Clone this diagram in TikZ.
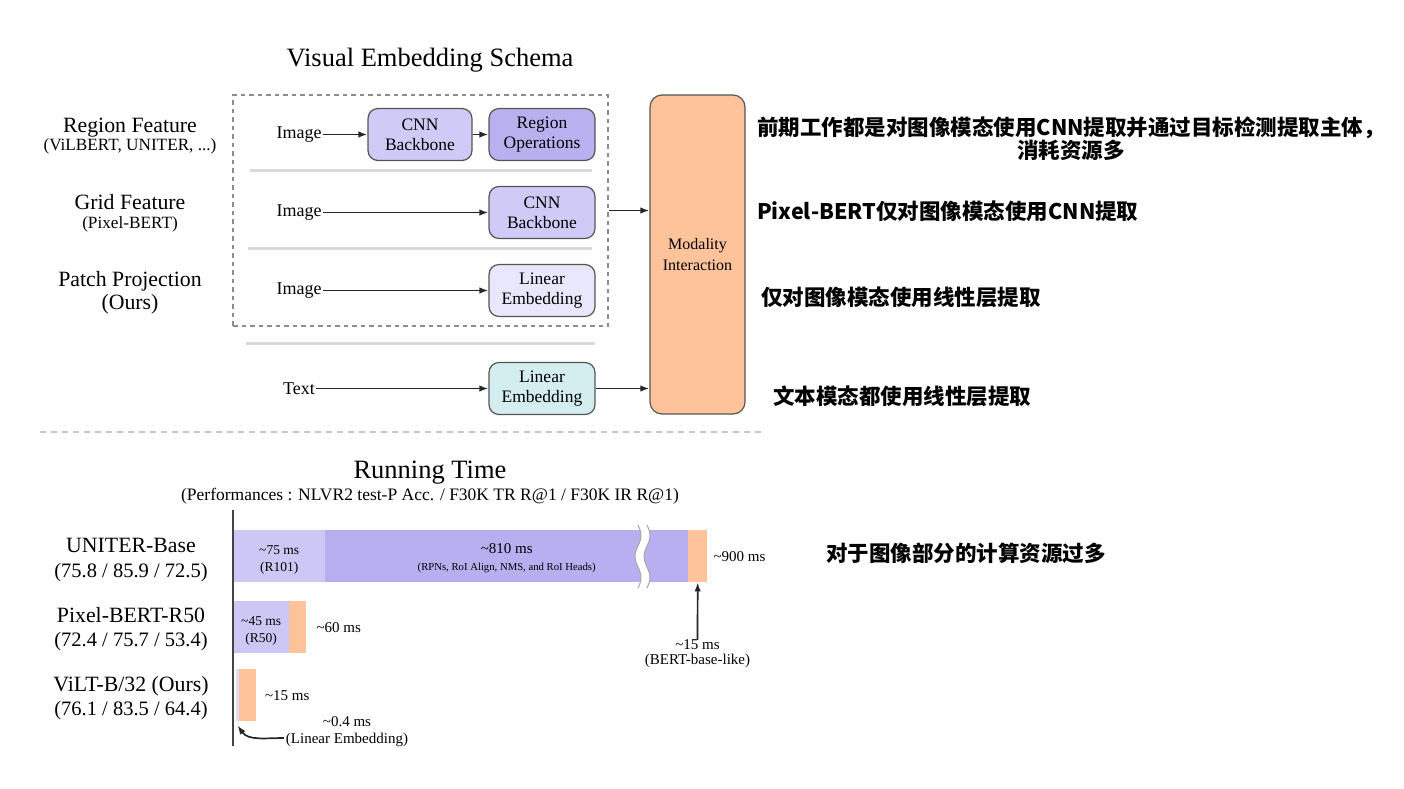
\documentclass[tikz,border=0pt]{standalone}
\usepackage{fontspec}
\setmainfont{Liberation Serif}
\newfontfamily\cjk{Noto Sans CJK SC}
\usetikzlibrary{arrows.meta,calc}
\definecolor{cnnc}{HTML}{CFCBF6}
\definecolor{regc}{HTML}{B8B0EF}
\definecolor{linc}{HTML}{E9E7FB}
\definecolor{txtc}{HTML}{D4EEF0}
\definecolor{orc}{HTML}{FFC39C}
\definecolor{barA}{HTML}{CCC7F4}
\definecolor{barB}{HTML}{B7AFEF}
\definecolor{sepc}{HTML}{D9D9D9}
\definecolor{edgec}{HTML}{555555}
\definecolor{axisc}{HTML}{444444}
\begin{document}
\begin{tikzpicture}[x=1pt,y=-1pt,
  box/.style={draw=edgec, line width=1.2pt, rounded corners=10pt, minimum width=106pt, minimum height=52pt, align=center, font=\fontsize{17.5}{20}\selectfont, inner sep=0pt},
  arr/.style={-{Latex[length=9pt,width=6.5pt]}, line width=1.7pt, draw=black!85},
  lbl/.style={font=\fontsize{18}{20}\selectfont, inner sep=1pt},
  bigl/.style={font=\fontsize{21.8}{24}\selectfont, inner sep=0pt, anchor=base},
  subl/.style={font=\fontsize{17.2}{19}\selectfont, inner sep=0pt, anchor=base},
  perf/.style={font=\fontsize{20.5}{23}\selectfont, inner sep=0pt, anchor=base},
  ttl/.style={font=\fontsize{26.5}{28}\selectfont, inner sep=0pt, anchor=base},
  cn/.style={font=\cjk\bfseries\fontsize{21.5}{23}\selectfont, align=center, inner sep=0pt},
  seg/.style={inner sep=0pt, draw=none, anchor=north west},
  inl/.style={inner sep=0pt, align=center, font=\fontsize{13.5}{17}\selectfont},
  ms/.style={font=\fontsize{15}{17}\selectfont, inner sep=0pt},
  sepline/.style={draw=sepc, line width=3pt}
]
\useasboundingbox (0,0) rectangle (1404,788);

% ---------- top: titles ----------
\node[ttl] (t1) at (430,66) {Visual Embedding Schema};

\node[bigl] (rf1) at (130,132) {Region Feature};
\node[subl] (rf2) at (130,150.5) {(ViLBERT, UNITER, ...)};
\node[bigl] (gf1) at (130,209) {Grid Feature};
\node[subl] (gf2) at (130,228.5) {(Pixel-BERT)};
\node[bigl] (pp1) at (130,286.5) {Patch Projection};
\node[bigl] (pp2) at (130,309) {(Ours)};

% dashed container
\node[draw=gray!90, dash pattern=on 4.5pt off 4pt, line width=2pt, minimum width=375pt, minimum height=231pt, inner sep=0pt] (vis) at (420.5,210.5) {};

% separators
\draw[sepline] (250,170) -- (592,170);
\draw[sepline] (248,248) -- (592,248);
\draw[sepline] (246,343) -- (595,343);

% rows
\node[lbl] (img1) at (299,134.5) {Image};
\node[box, fill=cnnc, minimum width=104pt] (cnn1) at (420,134.5) {CNN\\Backbone};
\node[box, fill=regc] (reg) at (542,134.5) {Region\\Operations};
\node[lbl] (img2) at (299,212.5) {Image};
\node[box, fill=cnnc] (cnn2) at (542,212.5) {CNN\\Backbone};
\node[lbl] (img3) at (299,290.5) {Image};
\node[box, fill=linc] (lin1) at (542,290.5) {Linear\\Embedding};
\node[lbl] (txt) at (299,388.5) {Text};
\node[box, fill=txtc] (lin2) at (542,388.5) {Linear\\Embedding};

\node[draw=edgec, line width=1.2pt, fill=orc, rounded corners=12pt, minimum width=95pt, minimum height=319pt, align=center, font=\fontsize{16}{21}\selectfont, inner sep=0pt] (mod) at (697.5,254.5) {Modality\\Interaction};

\draw[arr] (img1) -- (cnn1);
\draw[arr] (cnn1) -- (reg);
\draw[arr] (img2) -- (cnn2);
\draw[arr] (img3) -- (lin1);
\draw[arr] (txt) -- (lin2);
\draw[arr] (vis.east) -- (vis.east -| mod.west);
\draw[arr] (lin2.east) -- (lin2.east -| mod.west);

% chinese notes
\node[cn] (c1) at (1071,138.5) {前期工作都是对图像模态使用CNN提取并通过目标检测提取主体，\\消耗资源多};
\node[cn, anchor=west] (c2) at (757,211) {Pixel-BERT仅对图像模态使用CNN提取};
\node[cn, anchor=west] (c3) at (761,297) {仅对图像模态使用线性层提取};
\node[cn, anchor=west] (c4) at (773,396) {文本模态都使用线性层提取};
\node[cn, anchor=west] (c5) at (826,553) {对于图像部分的计算资源过多};

% dashed separator
\draw[draw=gray!45, line width=2pt, dash pattern=on 6pt off 5pt] (40,432) -- (765,432);

% ---------- bottom ----------
\node[ttl] (t2) at (430,478) {Running Time};
\node[font=\fontsize{17.5}{19}\selectfont, inner sep=0pt, anchor=base] (t3) at (430,500) {(Performances : NLVR2 test-P Acc. / F30K TR R@1 / F30K IR R@1)};

\node[bigl] (ub1) at (131,552) {UNITER-Base};
\node[perf] (ub2) at (131,577) {(75.8 / 85.9 / 72.5)};
\node[bigl] (pb1) at (131,622) {Pixel-BERT-R50};
\node[perf] (pb2) at (131,646) {(72.4 / 75.7 / 53.4)};
\node[bigl] (vl1) at (131,691.5) {ViLT-B/32 (Ours)};
\node[perf] (vl2) at (131,715) {(76.1 / 83.5 / 64.4)};

% UNITER bar
\node[seg, fill=barA, minimum width=92pt, minimum height=52pt] (u1) at (233,530) {};
\node[inl] (u1t) at ($(u1.center)+(0,3.5)$) {\textasciitilde75 ms\\(R101)};
\node[seg, fill=barB, minimum width=363pt, minimum height=52pt] (u2) at (325,530) {};
\node[inl] (u2t) at ($(u2.center)+(0,1.5)$) {{\fontsize{15}{17}\selectfont \textasciitilde810 ms}\\[0pt]{\fontsize{10.7}{13}\selectfont (RPNs, RoI Align, NMS, and RoI Heads)}};
\node[seg, fill=orc, minimum width=19pt, minimum height=52pt] (u3) at (688,530) {};
\node[ms, anchor=west] (u4) at ($(u3.east)+(6,0)$) {\textasciitilde900 ms};

% break mark
\fill[white] plot[smooth, domain=0:63, samples=40] ({638+3*sin(8.5714*\x)},{525+\x})
  -- plot[smooth, domain=63:0, samples=40] ({647+3*sin(8.5714*\x)},{525+\x}) -- cycle;
\draw[gray!70, line width=1pt] plot[smooth, domain=0:63, samples=40] ({638+3*sin(8.5714*\x)},{525+\x});
\draw[gray!70, line width=1pt] plot[smooth, domain=0:63, samples=40] ({647+3*sin(8.5714*\x)},{525+\x});

\node[ms] (b1) at (697.5,645) {\textasciitilde15 ms};
\node[ms] (b2) at (697.5,661) {(BERT-base-like)};
\draw[arr] (b1.north) -- (u3.south);

% Pixel-BERT bar
\node[seg, fill=barA, minimum width=56pt, minimum height=52pt] (p1) at (233,601) {};
\node[inl] (p1t) at ($(p1.center)+(0,3.5)$) {\textasciitilde45 ms\\(R50)};
\node[seg, fill=orc, minimum width=17pt, minimum height=52pt] (p2) at (289,601) {};
\node[ms, anchor=west] (p3) at ($(p2.east)+(10,0)$) {\textasciitilde60 ms};

% ViLT bar
\node[seg, fill=barA!60, minimum width=3pt, minimum height=52pt] (v0) at (235.5,669) {};
\node[seg, fill=orc, minimum width=17pt, minimum height=52pt] (v1) at (238.5,669) {};
\node[ms, anchor=west] (v2) at ($(v1.east)+(9,0)$) {\textasciitilde15 ms};
\node[ms] (v3) at (347,722) {\textasciitilde0.4 ms};
\node[ms] (v4) at (347,740) {(Linear Embedding)};
\draw[arr] ($(v4.west)+(-2,-2)$) to[out=180,in=-55] ($(v0.south west)+(2,4)$);

% axis
\draw[axisc, line width=2pt] (233,510) -- (233,746);
\end{tikzpicture}
\end{document}
